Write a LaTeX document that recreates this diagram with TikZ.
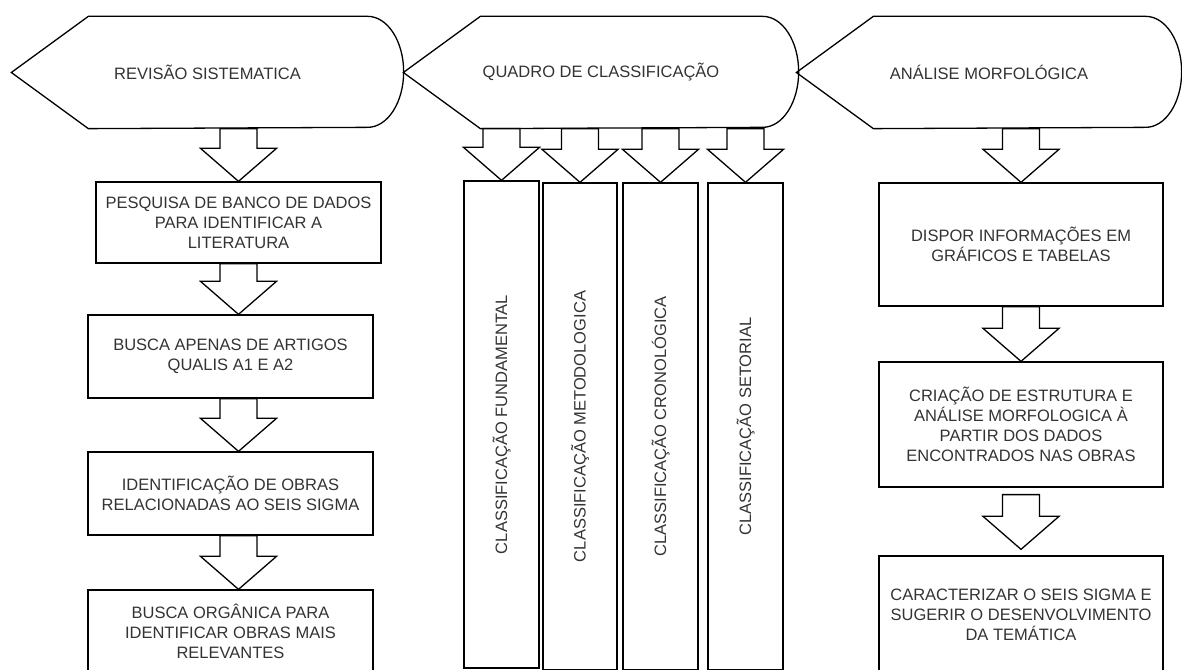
\documentclass[tikz,border=0pt]{standalone}
\usepackage{fontspec}
\setmainfont{Liberation Sans}
\usetikzlibrary{calc}

\newcommand{\fatarrow}[2]{%
\draw [fatarr] let \p1=(#1), \p2=(#2) in
  (\x2-18.5pt,\y1) -- (\x2-18.5pt,\y2+33pt) -- (\x2-38pt,\y2+33pt) -- (\x2,\y2)
  -- (\x2+38pt,\y2+33pt) -- (\x2+18.5pt,\y2+33pt) -- (\x2+18.5pt,\y1) -- cycle;}

\newcommand{\dispoutline}[1]{%
\draw (#1.west) -- ([xshift=77pt]#1.north west) -- ([xshift=-36pt]#1.north east)
  arc [start angle=90, end angle=-90, x radius=36pt, y radius=55.5pt]
  -- ([xshift=77pt]#1.south west) -- cycle;}

\begin{document}
\begin{tikzpicture}[x=1pt, y=1pt, line width=1.3pt,
  txt/.style={text=black!80, font=\fontsize{16.5}{20}\selectfont, align=center},
  display/.style={txt, inner sep=0pt, minimum height=111pt},
  stepbox/.style={txt, draw, inner sep=2pt},
  fatarr/.style={draw, fill=white, line join=miter}]
\useasboundingbox (0,0) rectangle (1182,669);

\node [display, minimum width=391pt] (rev) at (207.5,596.5) {REVISÃO SISTEMATICA};
\node [display, minimum width=394pt] (quad) at (601,596.5) {QUADRO DE CLASSIFICAÇÃO};
\node [display, minimum width=384pt] (ana) at (989,596.5) {ANÁLISE MORFOLÓGICA};
\dispoutline{rev}
\dispoutline{quad}
\dispoutline{ana}

\node [stepbox, minimum width=285pt, minimum height=81pt] (L1) at (238.5,446.5) {PESQUISA DE BANCO DE DADOS\\PARA IDENTIFICAR A\\LITERATURA};
\node [stepbox, minimum width=285pt, minimum height=83pt] (L2) at (230.5,312.5) {BUSCA APENAS DE ARTIGOS\\QUALIS A1 E A2};
\node [stepbox, minimum width=285pt, minimum height=83pt] (L3) at (230.5,175.5) {IDENTIFICAÇÃO DE OBRAS\\RELACIONADAS AO SEIS SIGMA};
\node [stepbox, minimum width=285pt, minimum height=83pt] (L4) at (230.5,37.5) {BUSCA ORGÂNICA PARA\\IDENTIFICAR OBRAS MAIS\\RELEVANTES};

\node [stepbox, minimum width=75pt, minimum height=487pt] (V1) at (501.5,244.5) {\rotatebox{90}{CLASSIFICAÇÃO FUNDAMENTAL}};
\node [stepbox, minimum width=74pt, minimum height=487pt] (V2) at (580,242.5) {\rotatebox{90}{CLASSIFICAÇÃO METODOLOGICA}};
\node [stepbox, minimum width=75pt, minimum height=487pt] (V3) at (660.5,242.5) {\rotatebox{90}{CLASSIFICAÇÃO CRONOLÓGICA}};
\node [stepbox, minimum width=75pt, minimum height=487pt] (V4) at (745.5,242.5) {\rotatebox{90}{CLASSIFICAÇÃO SETORIAL}};

\node [stepbox, minimum width=284pt, minimum height=123pt] (R1) at (1021,424.5) {DISPOR INFORMAÇÕES EM\\GRÁFICOS E TABELAS};
\node [stepbox, minimum width=284pt, minimum height=125pt] (R2) at (1021,244.5) {CRIAÇÃO DE ESTRUTURA E\\ANÁLISE MORFOLOGICA À\\PARTIR DOS DADOS\\ENCONTRADOS NAS OBRAS};
\node [stepbox, minimum width=284pt, minimum height=125pt, text depth=8pt] (R3) at (1021,50.5) {CARACTERIZAR O SEIS SIGMA E\\SUGERIR O DESENVOLVIMENTO\\DA TEMÁTICA};

\fatarrow{L1.north |- rev.south}{L1.north}
\fatarrow{L1.south}{L1.south |- L2.north}
\fatarrow{L1.south |- L2.south}{L1.south |- L3.north}
\fatarrow{L1.south |- L3.south}{L1.south |- L4.north}

\fatarrow{V1.north |- quad.south}{V1.north}
\fatarrow{V2.north |- quad.south}{V2.north}
\fatarrow{V3.north |- quad.south}{V3.north}
\fatarrow{V4.north |- quad.south}{V4.north}

\fatarrow{R1.north |- ana.south}{R1.north}
\fatarrow{R1.south}{R2.north}
\fatarrow{[yshift=-7pt]R2.south}{[yshift=6pt]R3.north}
\end{tikzpicture}
\end{document}
